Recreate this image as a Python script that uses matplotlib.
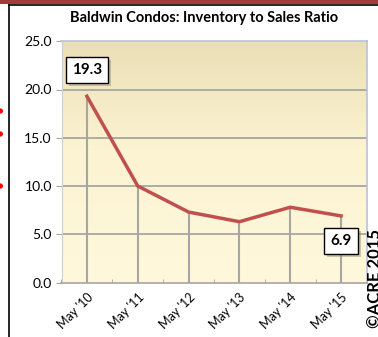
import numpy as np
import matplotlib
matplotlib.use("Agg")
import matplotlib.pyplot as plt
import matplotlib.patheffects as pe
from matplotlib.colors import LinearSegmentedColormap
from matplotlib.lines import Line2D
from matplotlib.patches import Rectangle, Circle

# data
years = ["May '10", "May '11", "May '12", "May '13", "May '14", "May '15"]
ratio = [19.3, 10.0, 7.3, 6.3, 7.8, 6.9]
yticks = [0, 5, 10, 15, 20, 25]

plt.rcParams["font.family"] = ["Lato", "DejaVu Sans"]

fig = plt.figure(figsize=(3.78, 3.37), dpi=100)
fig.patch.set_facecolor("white")
ax = fig.add_axes([61.5 / 378, 1 - 282.5 / 337, 305 / 378, 241.25 / 337])

x = np.arange(len(years))

# plot area gradient (tan at top -> cream at bottom)
cmap = LinearSegmentedColormap.from_list("bg", [(0, "#FFF8DC"), (0.55, "#FCF3D2"), (1, "#EADFB6")])
grad = np.linspace(0, 1, 256).reshape(-1, 1)
ax.imshow(grad, aspect="auto", cmap=cmap, origin="lower",
          extent=[0, 1, 0, 1], transform=ax.transAxes, zorder=0)

ax.set_xlim(-0.5, len(years) - 0.5)
ax.set_ylim(0, 25)

# horizontal gridlines
for t in yticks[1:-1]:
    ax.axhline(t, color="#A6A6A6", lw=1.3, zorder=1)

# drop lines
ax.vlines(x, 0, ratio, color="#A6A6A6", lw=1.5, zorder=2)

ax.plot(x, ratio, color="#C0504D", lw=2.5, solid_joinstyle="miter", zorder=3)

# data labels on first and last points
for i, dy in [(0, 19), (len(ratio) - 1, -18)]:
    t = ax.annotate(f"{ratio[i]:.1f}", (x[i], ratio[i]), xytext=(0, dy),
                    textcoords="offset points", ha="center", va="center",
                    fontsize=11, fontweight="bold", color="black",
                    bbox=dict(boxstyle="square,pad=0.4", fc="white", ec="black", lw=1.0),
                    zorder=5)
    t.get_bbox_patch().set_path_effects(
        [pe.SimplePatchShadow(offset=(2, -2), shadow_rgbFace="#9A927C", alpha=0.5), pe.Normal()])

ax.set_yticks(yticks)
ax.set_yticklabels([f"{t:.1f}" for t in yticks], fontsize=10)
ax.set_xticks(x)
ax.set_xticklabels(years, fontsize=9, rotation=45, ha="right", va="top",
                   rotation_mode="anchor")
ax.set_xticks(np.arange(-0.5, len(years), 1), minor=True)
ax.tick_params(axis="x", which="major", length=0, pad=6)
ax.tick_params(axis="x", which="minor", length=3, direction="in", color="#A6A6A6")
ax.tick_params(axis="y", length=4, color="#A6A6A6", pad=3)

for side in ["top", "right"]:
    ax.spines[side].set_color("#B9C3D5")
    ax.spines[side].set_linewidth(1.2)
ax.spines["left"].set_color("#CFCFCF")
ax.spines["bottom"].set_color("#A6A6A6")
ax.spines["bottom"].set_linewidth(1.2)

fig.text(204 / 378, 1 - 18 / 337, "Baldwin Condos: Inventory to Sales Ratio",
         ha="center", va="center", fontsize=10.5, fontweight="bold")

# surrounding page elements
fig.add_artist(Rectangle((0, 1 - 3.5 / 337), 1, 3.5 / 337, transform=fig.transFigure,
                         fc="#A23B3B", ec="none"))
fig.add_artist(Line2D([9 / 378, 1], [1 - 5 / 337] * 2, transform=fig.transFigure,
                      color="black", lw=1.2))
fig.add_artist(Line2D([9 / 378] * 2, [0, 1 - 5 / 337], transform=fig.transFigure,
                      color="black", lw=1.2))
for yy in [111, 134, 186]:
    fig.add_artist(Circle((0, 1 - yy / 337), 3 / 378, transform=fig.transFigure,
                          fc="red", ec="none"))

fig.text(375 / 378, 1 - 328 / 337, "\u00a9ACRE 2015", rotation=90, ha="center",
         va="bottom", fontsize=12, fontweight="bold")

fig.savefig("out.png", dpi=100)
